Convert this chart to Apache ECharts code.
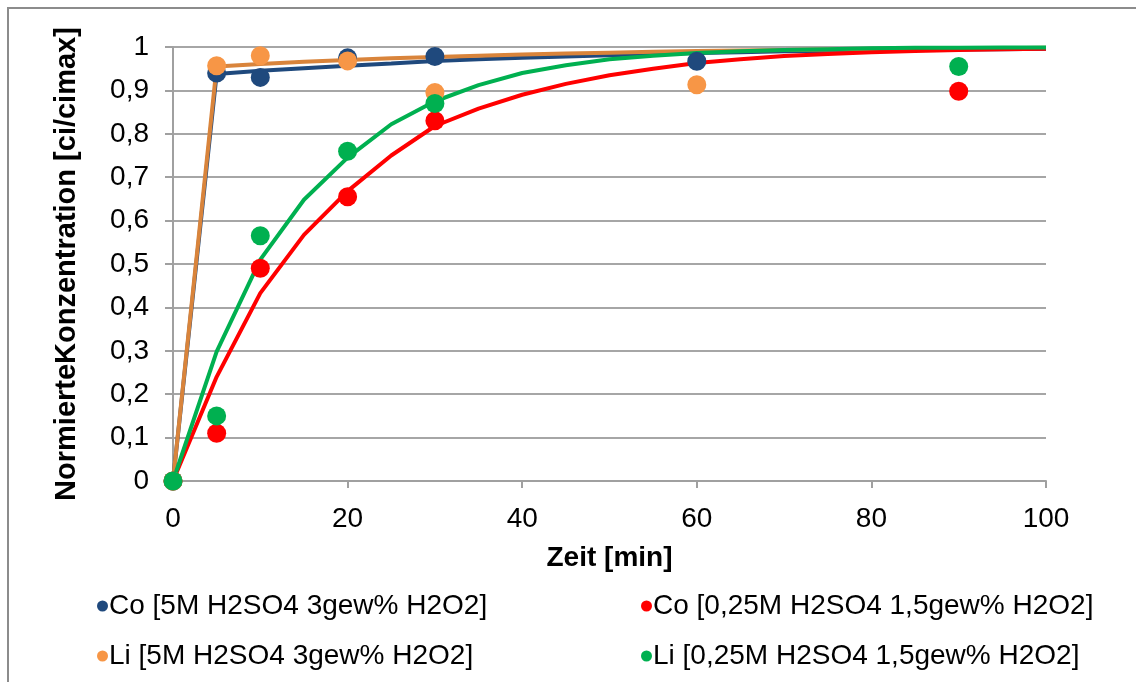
<!DOCTYPE html>
<html>
<head>
<meta charset="utf-8">
<script src="https://cdn.jsdelivr.net/npm/echarts@6/dist/echarts.min.js"></script>
<style>html,body{margin:0;padding:0;background:#fff}#c{width:1136px;height:682px}</style>
</head>
<body>
<div id="c"></div>
<script>
// measured points
const measTime = [0, 5, 10, 20, 30, 60, 90];
const coHigh = [0, 0.94, 0.93, 0.975, 0.978, 0.967, null];
const liHigh = [0, 0.957, 0.98, 0.968, 0.895, 0.913, null];
const coLow  = [0, 0.11, 0.49, 0.655, 0.83, null, 0.898];
const liLow  = [0, 0.15, 0.565, 0.76, 0.87, null, 0.955];

// model curves
const fitTime = [0,5,10,15,20,25,30,35,40,45,50,55,60,65,70,75,80,85,90,95,100];
const fitCoHigh = [0,0.938,0.945,0.951,0.957,0.962,0.968,0.972,0.975,0.978,0.981,0.984,0.986,0.988,0.99,0.991,0.992,0.993,0.994,0.995,0.996];
const fitLiHigh = [0,0.955,0.961,0.966,0.97,0.974,0.977,0.98,0.983,0.985,0.987,0.989,0.991,0.992,0.993,0.994,0.995,0.996,0.997,0.997,0.998];
const fitCoLow  = [0,0.24,0.433,0.567,0.668,0.75,0.818,0.858,0.89,0.915,0.935,0.95,0.963,0.972,0.979,0.984,0.988,0.991,0.993,0.995,0.996];
const fitLiLow  = [0,0.298,0.51,0.648,0.745,0.822,0.875,0.912,0.94,0.958,0.972,0.98,0.986,0.99,0.993,0.995,0.997,0.998,0.998,0.999,0.999];

const names = [
  'Co [5M H2SO4 3gew% H2O2]',
  'Co [0,25M H2SO4 1,5gew% H2O2]',
  'Li [5M H2SO4 3gew% H2O2]',
  'Li [0,25M H2SO4 1,5gew% H2O2]'
];
const yTicks = ['0','0,1','0,2','0,3','0,4','0,5','0,6','0,7','0,8','0,9','1'];

const markerCol = ['#1f497d', '#ff0000', '#f79646', '#00b050'];
const lineCol = ['#1f497d', '#ff0000', '#d9843b', '#00b050'];

function pairs(xs, ys) {
  const out = [];
  for (let i = 0; i < xs.length; i++) if (ys[i] !== null) out.push([xs[i], ys[i]]);
  return out;
}

const FONT = 'Liberation Sans, Arial, sans-serif';
const chart = echarts.init(document.getElementById('c'), null, {renderer: 'canvas'});

function lineSeries(data, color, z) {
  return {type: 'line', data: pairs(fitTime, data), symbol: 'none', showSymbol: false,
    lineStyle: {color: color, width: 4}, itemStyle: {color: color}, z: z, silent: true, legendHoverLink: false};
}
function scatterSeries(name, data, color) {
  return {type: 'scatter', name: name, data: pairs(measTime, data), symbol: 'circle', symbolSize: 19,
    itemStyle: {color: color, opacity: 1}, z: 10};
}

function legendAt(name, left, top) {
  return {data: [name], left: left, top: top, icon: 'circle', itemWidth: 11, itemHeight: 11, itemGap: 0,
    padding: 0, textStyle: {fontFamily: FONT, fontSize: 28, color: '#000', padding: [0, 0, 0, -4]}};
}

chart.setOption({
  animation: false,
  backgroundColor: '#fff',
  graphic: [{type: 'rect', shape: {x: 8, y: 8, width: 1300, height: 900}, style: {fill: 'none', stroke: '#8c8c8c', lineWidth: 2}, silent: true}],
  grid: {left: 173, right: 90, top: 47, bottom: 201},
  legend: [
    legendAt(names[0], 97, 592),
    legendAt(names[1], 641, 592),
    legendAt(names[2], 97, 642),
    legendAt(names[3], 641, 642)
  ],
  xAxis: {
    type: 'value', min: 0, max: 100, interval: 20,
    name: 'Zeit [min]', nameLocation: 'middle', nameGap: 63,
    nameTextStyle: {fontFamily: FONT, fontSize: 28, fontWeight: 'bold', color: '#000'},
    axisLine: {show: true, lineStyle: {color: '#a0a0a0', width: 2}},
    axisTick: {show: true, length: 7, lineStyle: {color: '#a0a0a0', width: 2}},
    axisLabel: {fontFamily: FONT, fontSize: 28, color: '#000', margin: 24},
    splitLine: {show: false}
  },
  yAxis: {
    type: 'value', min: 0, max: 1, interval: 0.1,
    name: 'NormierteKonzentration [ci/cimax]', nameLocation: 'middle', nameGap: 92, nameRotate: 90,
    nameTextStyle: {fontFamily: FONT, fontSize: 29, fontWeight: 'bold', color: '#000'},
    axisLine: {show: true, lineStyle: {color: '#a0a0a0', width: 2}},
    axisTick: {show: true, length: 8, lineStyle: {color: '#a0a0a0', width: 2}},
    axisLabel: {fontFamily: FONT, fontSize: 28, color: '#000', margin: 24,
      formatter: function (v) { return yTicks[Math.round(v * 10)]; }},
    splitLine: {show: true, lineStyle: {color: '#a6a6a6', width: 2}}
  },
  series: [
    lineSeries(fitCoHigh, lineCol[0], 2),
    lineSeries(fitLiHigh, lineCol[2], 3),
    lineSeries(fitCoLow, lineCol[1], 4),
    lineSeries(fitLiLow, lineCol[3], 5),
    scatterSeries(names[0], coHigh, markerCol[0]),
    scatterSeries(names[1], coLow, markerCol[1]),
    scatterSeries(names[2], liHigh, markerCol[2]),
    scatterSeries(names[3], liLow, markerCol[3])
  ]
});
</script>
</body>
</html>
